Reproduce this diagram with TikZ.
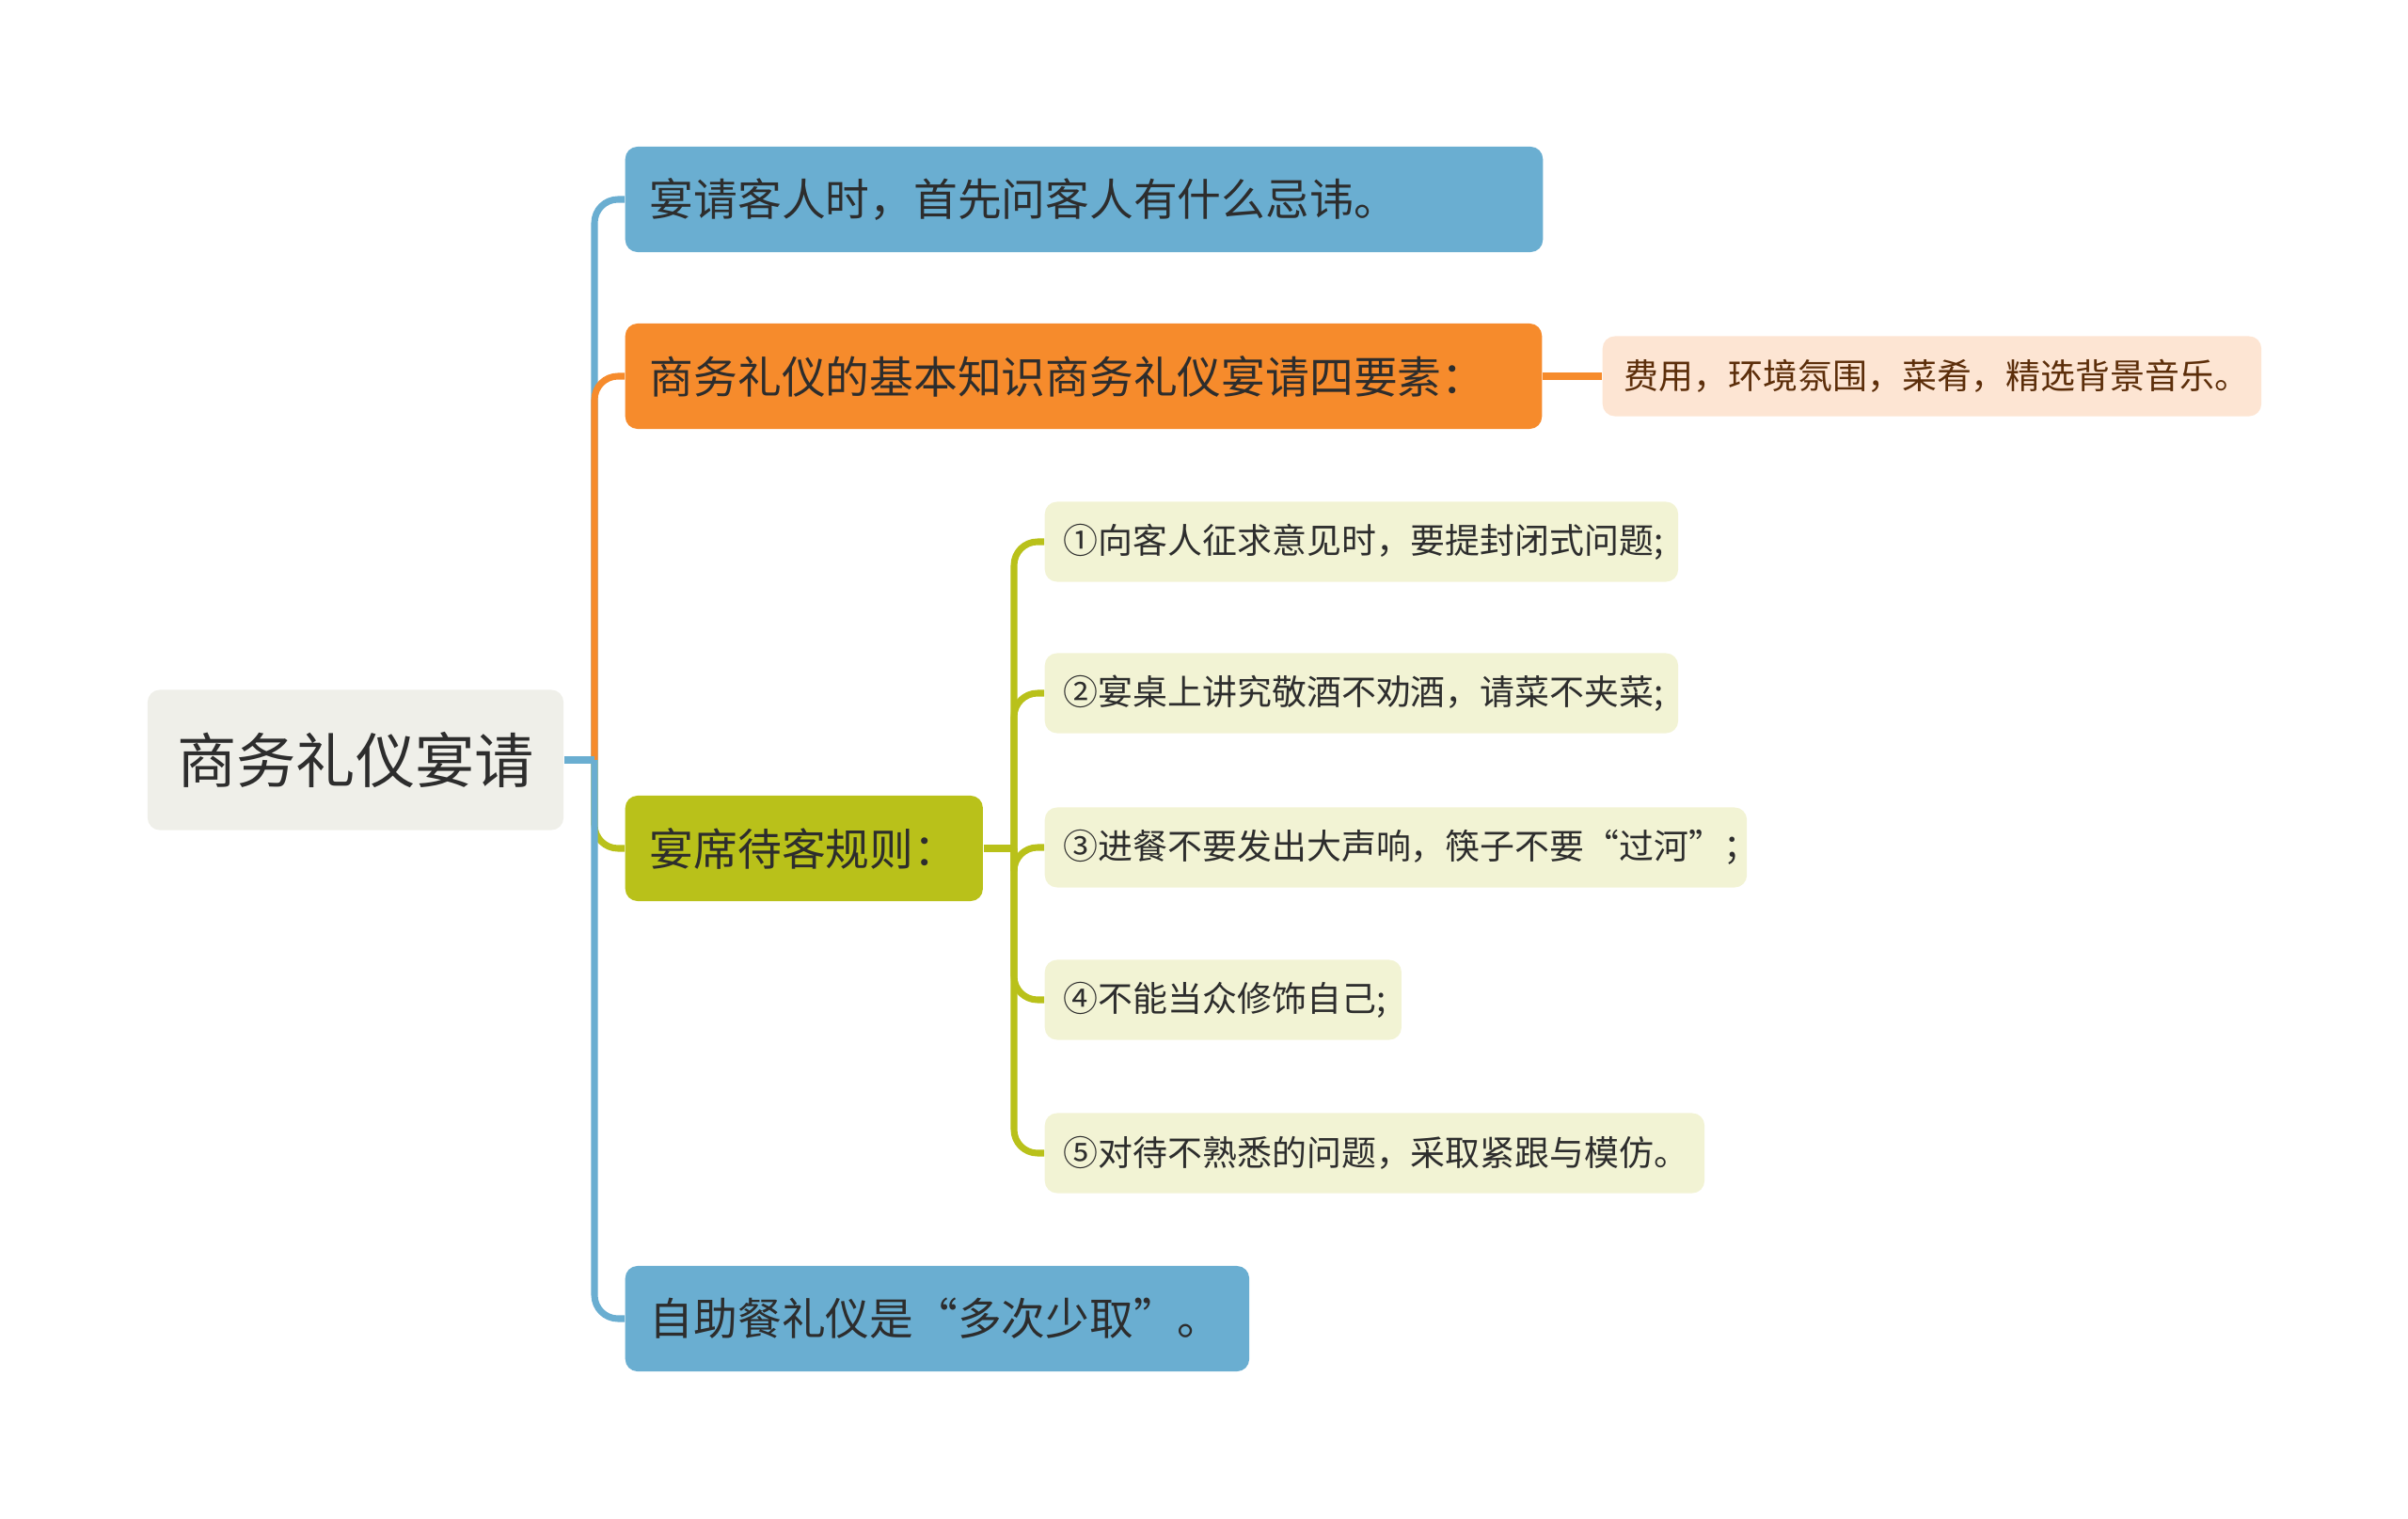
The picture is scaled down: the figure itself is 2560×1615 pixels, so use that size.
\documentclass[tikz,border=0pt]{standalone}
\usepackage{fontspec}
\setmainfont{Noto Sans CJK SC}
\usetikzlibrary{positioning}
\definecolor{blueC}{RGB}{106,174,209}
\definecolor{orangeC}{RGB}{246,139,44}
\definecolor{oliveC}{RGB}{185,193,26}
\definecolor{rootC}{RGB}{239,239,233}
\definecolor{peachC}{RGB}{253,229,211}
\definecolor{paleC}{RGB}{242,243,212}
\definecolor{inkC}{RGB}{45,45,45}
\definecolor{brownC}{RGB}{92,46,10}
\tikzset{
  rootbox/.style={fill=rootC, rounded corners=0.13cm, minimum width=4.42cm,
    minimum height=1.49cm, text=inkC, font=\fontsize{18}{22}\selectfont},
  lvone/.style={anchor=west, rounded corners=0.13cm, inner xsep=0.26cm,
    minimum height=1.12cm, align=left, text=inkC, font=\fontsize{13.3}{16}\selectfont},
  lvtwo/.style={anchor=west, rounded corners=0.13cm, inner xsep=0.2cm,
    minimum height=0.85cm, align=left, text=inkC, font=\fontsize{10.5}{13}\selectfont},
  branch/.style={line width=2pt, rounded corners=0.25cm}
}
\begin{document}
\begin{tikzpicture}[x=0.01cm, y=-0.01cm]
\useasboundingbox (0,0) rectangle (2560,1615);
\node (root) [rootbox] at (378,808) {商务礼仪宴请};
\node (n1) [lvone, fill=blueC, text width=9.23cm] at (664,212) {宴请客人时，首先问客人有什么忌讳。};
\node (n2) [lvone, fill=orangeC, text width=9.22cm] at (664,400) {商务礼仪的基本知识商务礼仪宴请四要素：};
\node (n3) [lvone, fill=oliveC, text width=3.28cm] at (664,902) {宴席待客规则：};
\node (n4) [lvone, fill=blueC, text width=6.11cm] at (664,1402) {自助餐礼仪是“多次少取”。};
\node (n2a) [lvtwo, fill=peachC, text=brownC, inner xsep=0.23cm, text width=6.54cm] at (1703,400) {费用，环境氛围，菜肴，精选背景音乐。};
\coordinate (t0) at (632,808);
\coordinate (t1) at (1078,902);
\draw[branch, blueC] (t0) |- (n1.west);
\draw[branch, orangeC] (t0) |- (n2.west);
\draw[branch, oliveC] (t0) |- (n3.west);
\draw[branch, blueC] (t0) |- (n4.west);
\draw[line width=2pt, blueC] (root.east) -- (t0);
\draw[line width=2pt, orangeC] (n2.east) -- (n2a.west);
\draw[line width=2pt, oliveC] (n3.east) -- (t1);
\foreach \y/\w/\t [count=\i] in {
  576/6.33/{①向客人征求意见时，要提封闭式问题;},
  737/6.33/{②宴桌上讲究敬酒不劝酒，请菜不夹菜;},
  901/7.06/{③进餐不要发出大声响，筷子不要“过河”；},
  1063/3.39/{④不能当众修饰自己;},
  1226/6.61/{⑤对待不熟悉的问题，采取紧跟与模仿。}} {
  \node (c\i) [lvtwo, fill=paleC, text width=\w cm] at (1110,\y) {\t};
  \draw[branch, oliveC] (t1) |- (c\i.west);
}
\end{tikzpicture}
\end{document}
